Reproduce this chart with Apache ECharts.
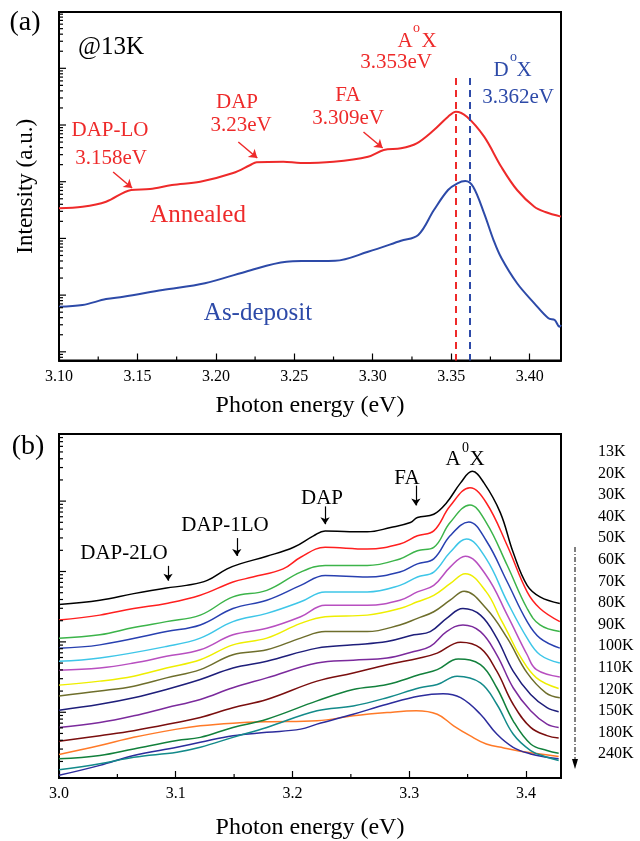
<!DOCTYPE html>
<html>
<head>
<meta charset="utf-8">
<script src="https://cdn.jsdelivr.net/npm/echarts/dist/echarts.min.js"></script>
<style>
  html, body { margin: 0; padding: 0; background: #fff; }
  #main { width: 640px; height: 841px; }
</style>
</head>
<body>
<div id="main"></div>
<script>
// (a) 13K spectra, [photon energy eV, intensity a.u.]
const annealed = [[3.100,340],[3.115,362],[3.130,444],[3.146,714],[3.158,743],[3.172,875],[3.190,1000],[3.211,1422],[3.222,1972],[3.226,2198],[3.243,2254],[3.254,2138],[3.275,2254],[3.297,2761],[3.307,3622],[3.318,3882],[3.328,4753],[3.339,8166],[3.348,14000],[3.353,17180],[3.360,14000],[3.371,6223],[3.382,1816],[3.392,714],[3.403,362],[3.410,292],[3.420,242]];
const asDeposit = [[3.100,6.24],[3.115,6.69],[3.130,8.53],[3.141,9.37],[3.166,12.3],[3.193,16.2],[3.219,25.9],[3.245,38.8],[3.258,39.9],[3.276,40.4],[3.297,58.2],[3.318,91.0],[3.329,115],[3.339,317],[3.348,714],[3.354,938],[3.359,1029],[3.364,816],[3.371,277],[3.377,93.7],[3.382,45.1],[3.392,16.2],[3.403,7.17],[3.412,3.90],[3.416,3.64],[3.419,2.77],[3.420,2.97]];

// (b) temperature series
const s13K = [[3.000,340],[3.035,391],[3.064,485],[3.092,583],[3.109,635],[3.127,747],[3.144,1091],[3.155,1283],[3.178,1648],[3.201,2207],[3.218,3214],[3.228,3777],[3.249,3659],[3.264,3659],[3.284,4220],[3.301,4963],[3.307,5837],[3.321,6501],[3.332,9487],[3.344,18160],[3.354,26480],[3.364,18160],[3.378,6871],[3.389,1876],[3.401,635],[3.412,436],[3.429,351]];
const s20K = [[3.000,204],[3.035,240],[3.064,298],[3.092,351],[3.121,459],[3.149,709],[3.166,834],[3.192,1091],[3.207,1595],[3.228,2207],[3.264,2089],[3.292,2455],[3.307,3214],[3.321,3777],[3.335,8505],[3.352,15450],[3.366,9487],[3.384,2323],[3.401,513],[3.412,298],[3.429,194]];
const s30K = [[3.000,113],[3.035,126],[3.064,160],[3.092,194],[3.121,240],[3.149,436],[3.178,540],[3.207,981],[3.228,1216],[3.264,1216],[3.292,1510],[3.307,1977],[3.321,2207],[3.335,4963],[3.352,8790],[3.366,4963],[3.384,1216],[3.401,298],[3.412,174],[3.429,140]];
const s40K = [[3.000,81.5],[3.035,90.7],[3.092,140],[3.121,174],[3.149,298],[3.178,391],[3.207,635],[3.228,879],[3.264,834],[3.292,981],[3.307,1283],[3.321,1510],[3.335,3214],[3.351,5058],[3.366,2733],[3.384,709],[3.401,194],[3.412,113],[3.429,81.5]];
const s50K = [[3.000,53.0],[3.035,58.9],[3.092,86.1],[3.121,113],[3.149,194],[3.178,254],[3.207,371],[3.228,513],[3.264,513],[3.292,635],[3.307,834],[3.321,981],[3.335,1876],[3.349,2890],[3.366,1510],[3.384,371],[3.401,113],[3.412,65.6],[3.429,50.1]];
const s60K = [[3.000,39.6],[3.035,42.6],[3.064,50.1],[3.092,62.3],[3.121,77.1],[3.149,126],[3.178,156],[3.207,228],[3.228,332],[3.264,332],[3.292,391],[3.307,513],[3.321,635],[3.335,1153],[3.348,1648],[3.366,879],[3.384,240],[3.401,65.6],[3.409,40.3],[3.429,31.8]];
const s70K = [[3.000,24.3],[3.035,27.7],[3.064,32.6],[3.092,42.6],[3.121,55.7],[3.149,90.7],[3.178,113],[3.207,183],[3.228,228],[3.264,240],[3.292,298],[3.307,371],[3.321,459],[3.335,671],[3.348,929],[3.366,513],[3.378,216],[3.384,140],[3.395,62.3],[3.409,30.8],[3.428,21.8]];
const s80K = [[3.000,17.0],[3.035,20.0],[3.064,23.5],[3.092,30.8],[3.121,40.3],[3.149,65.6],[3.178,77.1],[3.207,113],[3.228,140],[3.264,140],[3.292,174],[3.307,216],[3.321,268],[3.335,391],[3.347,523],[3.366,298],[3.384,113],[3.401,36.2],[3.417,18.9],[3.429,16.1]];
const s90K = [[3.000,10.7],[3.035,13.0],[3.064,16.1],[3.092,21.1],[3.121,29.2],[3.149,42.6],[3.178,53.0],[3.221,81.5],[3.252,90.7],[3.281,101],[3.304,126],[3.318,140],[3.332,216],[3.346,298],[3.361,240],[3.375,113],[3.389,38.3],[3.404,17.9],[3.418,11.6],[3.428,10.2]];
const s100K = [[3.000,6.09],[3.035,7.16],[3.064,8.90],[3.092,11.6],[3.121,15.2],[3.149,22.3],[3.178,30.8],[3.221,50.0],[3.252,55.0],[3.281,58.9],[3.304,73.2],[3.318,86.1],[3.332,140],[3.346,174],[3.361,140],[3.375,65.6],[3.389,22.3],[3.404,10.5],[3.418,6.78],[3.428,6.09]];
const s110K = [[3.000,3.87],[3.035,4.65],[3.064,5.47],[3.101,7.16],[3.121,8.42],[3.149,11.6],[3.178,15.2],[3.221,27.7],[3.252,36.2],[3.281,47.4],[3.309,58.9],[3.324,69.3],[3.344,99.0],[3.361,81.5],[3.375,38.3],[3.389,13.0],[3.404,6.09],[3.418,4.65],[3.428,4.30]];
const s120K = [[3.000,2.18],[3.035,2.43],[3.064,3.01],[3.101,3.96],[3.121,4.40],[3.149,6.09],[3.178,7.97],[3.221,14.5],[3.252,21.1],[3.281,24.8],[3.309,34.3],[3.324,40.3],[3.342,57.1],[3.361,47.4],[3.375,22.3],[3.389,7.57],[3.404,3.54],[3.418,2.86],[3.428,2.62]];
const s150K = [[3.000,1.52],[3.035,1.85],[3.064,2.30],[3.101,2.71],[3.121,3.18],[3.149,4.40],[3.178,6.09],[3.221,10.5],[3.252,12.3],[3.281,16.1],[3.309,22.3],[3.324,24.8],[3.341,32.6],[3.361,26.2],[3.375,13.0],[3.389,4.90],[3.404,2.86],[3.418,2.30],[3.428,2.07]];
const s180K = [[3.000,1.27],[3.035,1.76],[3.064,2.43],[3.101,3.18],[3.121,3.74],[3.149,4.65],[3.178,5.18],[3.207,5.76],[3.221,6.78],[3.252,9.37],[3.281,13.0],[3.309,17.0],[3.329,18.3],[3.344,16.1],[3.361,9.37],[3.375,4.90],[3.389,3.18],[3.404,2.56],[3.418,2.30],[3.428,2.18]];
const s240K = [[3.000,2.51],[3.035,3.36],[3.064,4.40],[3.101,5.76],[3.121,6.43],[3.149,7.00],[3.178,7.32],[3.221,7.57],[3.252,8.90],[3.281,9.90],[3.306,10.5],[3.324,9.37],[3.338,6.43],[3.352,4.65],[3.366,3.54],[3.381,3.11],[3.395,2.80],[3.412,2.56],[3.428,2.35]];

const tempLabels = ['13K','20K','30K','40K','50K','60K','70K','80K','90K','100K','110K','120K','150K','180K','240K'];
const tempSeries = [s13K,s20K,s30K,s40K,s50K,s60K,s70K,s80K,s90K,s100K,s110K,s120K,s150K,s180K,s240K];
const tempColors = ['#000000','#ff1f1f','#3cb44a','#2840b0','#3ec6e8','#b84fc0','#eeee00','#6e6e2c','#1e1e7a','#7b2a9c','#7a0e0e','#12803c','#138a8a','#2c2c9c','#ff7a28'];

// axis ranges
const xRangeA = [3.10, 3.42];
const yRangeA = [0.703, 984000];
const xRangeB = [3.0, 3.43];
const yRangeB = [1.164, 89900];
const xMinorA = [3.125, 3.175, 3.225, 3.275, 3.325, 3.375];
const xMinorB = [3.05, 3.15, 3.25, 3.35];

const FONT = '"Liberation Serif", "Times New Roman", serif';
const RED = '#ee2a2a';
const BLUE = '#2d4aa8';

var chart = echarts.init(document.getElementById('main'));

// log-axis ticks at 1..9 x 10^n, longer at decades
function logTicks(x0, range) {
  const out = [];
  for (let e = -1; e <= 6; e++) {
    for (let k = 1; k <= 9; k++) {
      const v = k * Math.pow(10, e);
      if (v >= range[0] && v <= range[1]) out.push([x0, v, k === 1 ? 7 : 4]);
    }
  }
  return out;
}

function yTickSeries(idx, x0, range) {
  return {
    type: 'custom', xAxisIndex: idx, yAxisIndex: idx, silent: true, clip: false, z: 5,
    data: logTicks(x0, range),
    renderItem: function (params, api) {
      const p = api.coord([api.value(0), api.value(1)]);
      const cs = params.coordSys;
      return { type: 'line', shape: { x1: cs.x, y1: p[1], x2: cs.x + api.value(2), y2: p[1] },
        style: { stroke: '#000', lineWidth: 1.2 } };
    }
  };
}

function xMinorSeries(idx, vals, y0) {
  return {
    type: 'custom', xAxisIndex: idx, yAxisIndex: idx, silent: true, clip: false, z: 5,
    data: vals.map(v => [v, y0]),
    renderItem: function (params, api) {
      const p = api.coord([api.value(0), api.value(1)]);
      const cs = params.coordSys;
      const yb = cs.y + cs.height;
      return { type: 'line', shape: { x1: p[0], y1: yb, x2: p[0], y2: yb - 4 },
        style: { stroke: '#000', lineWidth: 1.2 } };
    }
  };
}

function arrow(x1, y1, x2, y2) {
  return [{ coord: [x1, y1] }, { coord: [x2, y2] }];
}

function txt(text, x, y, size, color, align) {
  return { type: 'text', x: x, y: y, z: 20,
    style: { text: text, fill: color || '#000', font: size + 'px ' + FONT,
      textAlign: align || 'center', textVerticalAlign: 'middle' } };
}

function xAxisCfg(idx, range, interval, digits, nameGap) {
  return {
    type: 'value', gridIndex: idx, min: range[0], max: range[1], interval: interval,
    axisLine: { lineStyle: { color: '#000', width: 2 } },
    axisTick: { inside: true, length: 7, lineStyle: { width: 1.2 } },
    axisLabel: { formatter: v => v.toFixed(digits), showMaxLabel: false, margin: 8,
      fontSize: 16, color: '#000', fontFamily: FONT },
    splitLine: { show: false },
    name: 'Photon energy (eV)', nameLocation: 'middle', nameGap: nameGap,
    nameTextStyle: { fontSize: 24, color: '#000', fontFamily: FONT }
  };
}

function yAxisCfg(idx, range, name) {
  return {
    type: 'log', logBase: 10, gridIndex: idx, min: range[0], max: range[1],
    axisLine: { show: true, lineStyle: { color: '#000', width: 2 } },
    axisTick: { show: false }, axisLabel: { show: false }, splitLine: { show: false },
    name: name, nameLocation: 'middle', nameGap: 22,
    nameTextStyle: { fontSize: 23, color: '#000', fontFamily: FONT }
  };
}

const seriesB = tempSeries.map((d, i) => ({
  name: tempLabels[i], type: 'line', xAxisIndex: 1, yAxisIndex: 1, data: d,
  showSymbol: false, smooth: 0.4, z: 3 + (15 - i) / 100,
  lineStyle: { color: tempColors[i], width: 1.5 }, itemStyle: { color: tempColors[i] }
}));
// feature arrows in (b)
seriesB[0].markLine = {
  silent: true, symbol: ['none', 'arrow'], symbolSize: 7, label: { show: false },
  lineStyle: { color: '#000', width: 1.2, type: 'solid' },
  data: [arrow(3.0934, 1203, 3.0934, 740), arrow(3.1523, 2985, 3.1523, 1663),
         arrow(3.2279, 8414, 3.2279, 4699), arrow(3.3057, 16640, 3.3057, 8690)]
};

const graphics = [
  txt('(a)', 25, 23, 28),
  txt('@13K', 78, 47, 25, '#000', 'left'),
  txt('DAP-LO', 110, 130, 21, RED), txt('3.158eV', 111, 158, 21, RED),
  txt('DAP', 237, 102, 21, RED), txt('3.23eV', 241, 125, 21, RED),
  txt('FA', 348, 95, 21, RED), txt('3.309eV', 348, 118, 21, RED),
  txt('A', 405, 41, 21, RED), txt('o', 416.5, 28, 14, RED), txt('X', 429, 41, 21, RED),
  txt('3.353eV', 396, 62, 21, RED),
  txt('D', 501, 70, 21, BLUE), txt('o', 513.5, 57, 14, BLUE), txt('X', 524, 70, 21, BLUE),
  txt('3.362eV', 518, 97, 21, BLUE),
  txt('Annealed', 198, 215, 25, RED),
  txt('As-deposit', 258, 313, 25, BLUE),
  txt('(b)', 28, 447, 28),
  txt('DAP-2LO', 124, 553, 21), txt('DAP-1LO', 225, 525, 21),
  txt('DAP', 322, 498, 21), txt('FA', 407, 478, 21),
  txt('A', 453, 459, 21), txt('0', 465.5, 448, 14), txt('X', 477, 459, 21),
  { type: 'line', z: 20, shape: { x1: 575, y1: 547, x2: 575, y2: 761 },
    style: { stroke: '#000', lineWidth: 1, lineDash: [5, 2, 1, 2] } },
  { type: 'polygon', z: 20, shape: { points: [[572, 759], [578, 759], [575, 769]] },
    style: { fill: '#000' } }
].concat(tempLabels.map((t, i) => txt(t, 598, 451.7 + i * 21.6, 16, '#000', 'left')));

const option = {
  animation: false,
  backgroundColor: '#fff',
  grid: [
    { left: 59, top: 12, width: 502, height: 348.5, show: true, borderColor: '#000', borderWidth: 2 },
    { left: 59, top: 434, width: 502, height: 347, show: true, borderColor: '#000', borderWidth: 2 }
  ],
  xAxis: [xAxisCfg(0, xRangeA, 0.05, 2, 33), xAxisCfg(1, xRangeB, 0.1, 1, 38)],
  yAxis: [yAxisCfg(0, yRangeA, 'Intensity (a.u.)'), yAxisCfg(1, yRangeB, '')],
  graphic: graphics,
  series: [
    {
      name: 'Annealed', type: 'line', xAxisIndex: 0, yAxisIndex: 0, data: annealed,
      showSymbol: false, smooth: 0.35, lineStyle: { color: RED, width: 2 }, itemStyle: { color: RED },
      markLine: {
        silent: true, symbol: ['none', 'arrow'], symbolSize: 8, label: { show: false },
        lineStyle: { color: RED, width: 1.5, type: 'solid' },
        data: [arrow(3.1345, 1483, 3.1466, 774), arrow(3.2143, 5012, 3.2264, 2618),
               arrow(3.2941, 7534, 3.3063, 3926),
               [{ coord: [3.353, 67400], symbol: 'none', lineStyle: { type: [7, 5], width: 2 } },
                { coord: [3.353, yRangeA[0]], symbol: 'none' }]]
      }
    },
    {
      name: 'As-deposit', type: 'line', xAxisIndex: 0, yAxisIndex: 0, data: asDeposit,
      showSymbol: false, smooth: 0.35, lineStyle: { color: BLUE, width: 2 }, itemStyle: { color: BLUE },
      markLine: {
        silent: true, symbol: 'none', label: { show: false },
        lineStyle: { color: BLUE, width: 2, type: [7, 5] },
        data: [[{ coord: [3.362, 67400] }, { coord: [3.362, yRangeA[0]] }]]
      }
    },
    yTickSeries(0, xRangeA[0], yRangeA),
    xMinorSeries(0, xMinorA, yRangeA[0]),
    yTickSeries(1, xRangeB[0], yRangeB),
    xMinorSeries(1, xMinorB, yRangeB[0])
  ].concat(seriesB)
};

chart.setOption(option);
</script>
</body>
</html>
